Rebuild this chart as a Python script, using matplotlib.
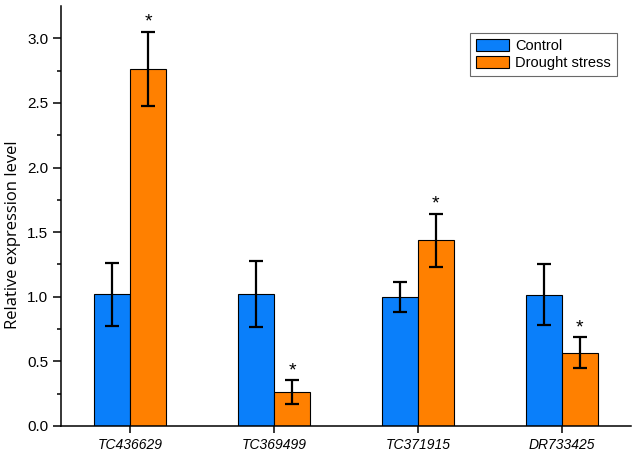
import numpy as np
import matplotlib
matplotlib.use('Agg')
import matplotlib.pyplot as plt

plt.rcParams['font.family'] = ['Liberation Sans', 'DejaVu Sans']

genes = ['TC436629', 'TC369499', 'TC371915', 'DR733425']
control = [1.018, 1.018, 1.0, 1.016]
control_err = [0.245, 0.255, 0.118, 0.236]
drought = [2.761, 0.263, 1.438, 0.565]
drought_err = [0.288, 0.09, 0.205, 0.12]
signif = [True, True, True, True]  # star over drought bar

blue = '#0A7FFA'
orange = '#FF8000'

fig = plt.figure(figsize=(6.38, 4.59), dpi=100)
ax = fig.add_axes([0.0956, 0.0719, 0.8934, 0.9151])

x = np.arange(len(genes))
w = 0.25
ax.bar(x - w/2, control, w, color=blue, edgecolor='black', linewidth=0.8,
       label='Control', zorder=2)
ax.bar(x + w/2, drought, w, color=orange, edgecolor='black', linewidth=0.8,
       label='Drought stress', zorder=2)
ax.errorbar(x - w/2, control, yerr=control_err, fmt='none', ecolor='black',
            elinewidth=1.6, capsize=5, capthick=1.6, zorder=3)
ax.errorbar(x + w/2, drought, yerr=drought_err, fmt='none', ecolor='black',
            elinewidth=1.6, capsize=5, capthick=1.6, zorder=3)

for i in range(len(genes)):
    if signif[i]:
        ax.text(x[i] + w/2, drought[i] + drought_err[i] + 0.01, '*',
                ha='center', va='bottom', fontsize=14)

ax.set_xlim(-0.48, 3.48)
ax.set_ylim(0, 3.25)
ax.set_xticks(x)
ax.set_xticklabels(genes, style='italic', fontsize=10)
ax.set_yticks(np.arange(0, 3.01, 0.5))
ax.set_yticklabels(['%.1f' % v for v in np.arange(0, 3.01, 0.5)], fontsize=11)
ax.set_yticks(np.arange(0.25, 3.25, 0.5), minor=True)
ax.tick_params(axis='y', which='major', direction='out', length=5.5, width=1.1)
ax.tick_params(axis='y', which='minor', direction='out', length=3.2, width=1.1)
ax.tick_params(axis='x', which='major', direction='out', length=5, width=1.1)
ax.spines['top'].set_visible(False)
ax.spines['right'].set_visible(False)
ax.spines['left'].set_linewidth(1.1)
ax.spines['bottom'].set_linewidth(1.1)
ax.set_ylabel('Relative expression level', fontsize=12, family='Open Sans')
ax.yaxis.set_label_coords(-0.071, 0.455)

leg = ax.legend(loc='upper right', bbox_to_anchor=(0.988, 0.952), fontsize=10.5,
                frameon=True, fancybox=False, handlelength=2.3, handleheight=0.9,
                borderpad=0.4, labelspacing=0.2, handletextpad=0.4)
leg.get_frame().set_edgecolor('#444444')
leg.get_frame().set_linewidth(0.8)

fig.savefig('out.png', dpi=100)
